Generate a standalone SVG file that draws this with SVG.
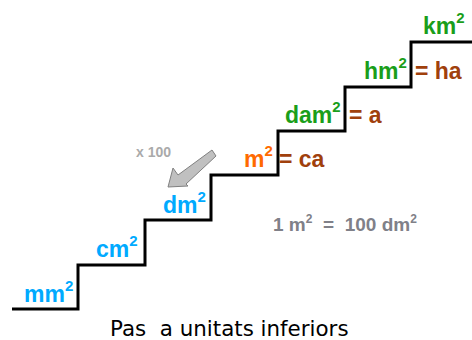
<svg xmlns="http://www.w3.org/2000/svg" width="472" height="340" viewBox="0 0 472 340">
<style>
.lbl{font-family:"Liberation Sans",Arial,sans-serif;font-weight:bold;font-size:23px}
.sup{font-size:15px}
.blue{fill:#00AAFF}
.green{fill:#1A9E1A}
.orange{fill:#FF6A00}
.brown{fill:#A0400C}
.stair{fill:none;stroke:#000;stroke-width:3;stroke-linejoin:miter}
.note{font-family:"Liberation Sans",Arial,sans-serif;font-weight:bold;fill:#808088}
.cap{font-family:"DejaVu Sans",Verdana,sans-serif;font-size:21.4px;fill:#000}
</style>
<g id="connectors">
<path id="stairs" class="stair" d="M12 309 H78 V265 H145 V220 H211 V175 H278 V131 H345 V87 H411 V42 H472"/>
<path id="arrow" d="M212 150 L216 156 L186 184 L188 186 L168 187 L173 168 L178 175 Z" fill="#c0c0c0" stroke="#808080" stroke-width="1"/>
</g>
<g id="mm2"><text class="lbl blue" x="24" y="302">mm<tspan class="sup" dy="-11">2</tspan></text></g>
<g id="cm2"><text class="lbl blue" x="96" y="257">cm<tspan class="sup" dy="-11">2</tspan></text></g>
<g id="dm2"><text class="lbl blue" x="163" y="213">dm<tspan class="sup" dy="-11">2</tspan></text></g>
<g id="m2"><text class="lbl" x="244" y="167"><tspan class="orange">m</tspan><tspan class="sup orange" dy="-11">2</tspan><tspan class="brown" dy="11" x="279">= ca</tspan></text></g>
<g id="dam2"><text class="lbl" x="285" y="123"><tspan class="green">dam</tspan><tspan class="sup green" dy="-11">2</tspan><tspan class="brown" dy="11" x="349">= a</tspan></text></g>
<g id="hm2"><text class="lbl" x="364" y="79"><tspan class="green">hm</tspan><tspan class="sup green" dy="-11">2</tspan><tspan class="brown" dy="11" x="415">= ha</tspan></text></g>
<g id="km2"><text class="lbl green" x="423" y="34">km<tspan class="sup" dy="-11">2</tspan></text></g>
<g id="x100"><text class="note" x="136" y="157" font-size="14" style="fill:#aaaaaa">x 100</text></g>
<g id="eq"><text class="note" x="273" y="231" font-size="19" xml:space="preserve">1 m<tspan font-size="12" dy="-8">2</tspan><tspan dy="8">  =  100 dm</tspan><tspan font-size="12" dy="-8">2</tspan></text></g>
<g id="caption"><text class="cap" x="110" y="336" xml:space="preserve">Pas  a unitats inferiors</text></g>
</svg>
